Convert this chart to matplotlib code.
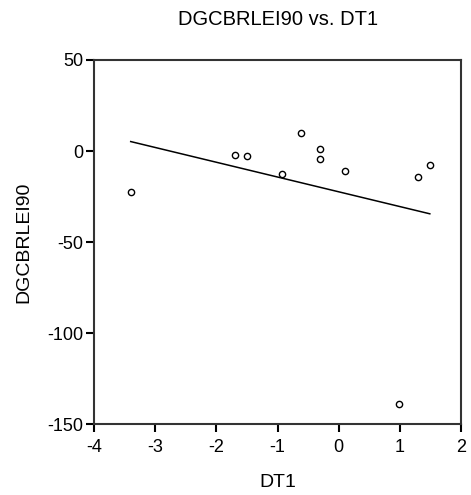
import numpy as np
import matplotlib
matplotlib.use('Agg')
import matplotlib.pyplot as plt

plt.rcParams['font.family'] = ['Liberation Sans', 'DejaVu Sans']
plt.rcParams['axes.unicode_minus'] = False

# data
dt1 = [-3.4, -1.7, -1.5, -0.92, -0.61, -0.31, -0.31, 0.10, 0.99, 1.29, 1.49]
dgcbrlei90 = [-22.5, -2.4, -2.9, -12.5, 9.7, 1.1, -4.6, -11.0, -139.0, -14.3, -7.9]

x = np.array(dt1)
y = np.array(dgcbrlei90)
k, b = np.polyfit(x, y, 1)
xs = np.array([x.min(), x.max()])

fig = plt.figure(figsize=(4.71, 4.95), dpi=100)
ax = fig.add_axes([0.1996, 0.1428, 0.7792, 0.7360])

ax.plot(xs, k * xs + b, color='black', lw=1.1)
ax.plot(x, y, 'o', mfc='white', mec='black', ms=4.5, mew=1.0)

ax.set_xlim(-4, 2)
ax.set_ylim(-150, 50)
ax.set_xticks(range(-4, 3))
ax.set_yticks([-150, -100, -50, 0, 50])
ax.tick_params(direction='out', length=5.5, width=1.5, labelsize=13, colors='black')
ax.tick_params(axis='x', pad=5)
ax.tick_params(axis='y', pad=2)
for s in ax.spines.values():
    s.set_color('#333333')
    s.set_linewidth(1.5)

# title, axis labels
fig.text(0.59, 1 - 19.5 / 495, 'DGCBRLEI90 vs. DT1', fontsize=14.5, ha='center', va='center')
ax.set_xlabel('DT1', fontsize=14)
ax.xaxis.set_label_coords(0.5, -0.159)
ax.xaxis.label.set_va('center')
ax.set_ylabel('DGCBRLEI90', fontsize=14)
ax.yaxis.set_label_coords(-0.191, 0.5)
ax.yaxis.label.set_va('center')

fig.savefig('out.png', dpi=100)
